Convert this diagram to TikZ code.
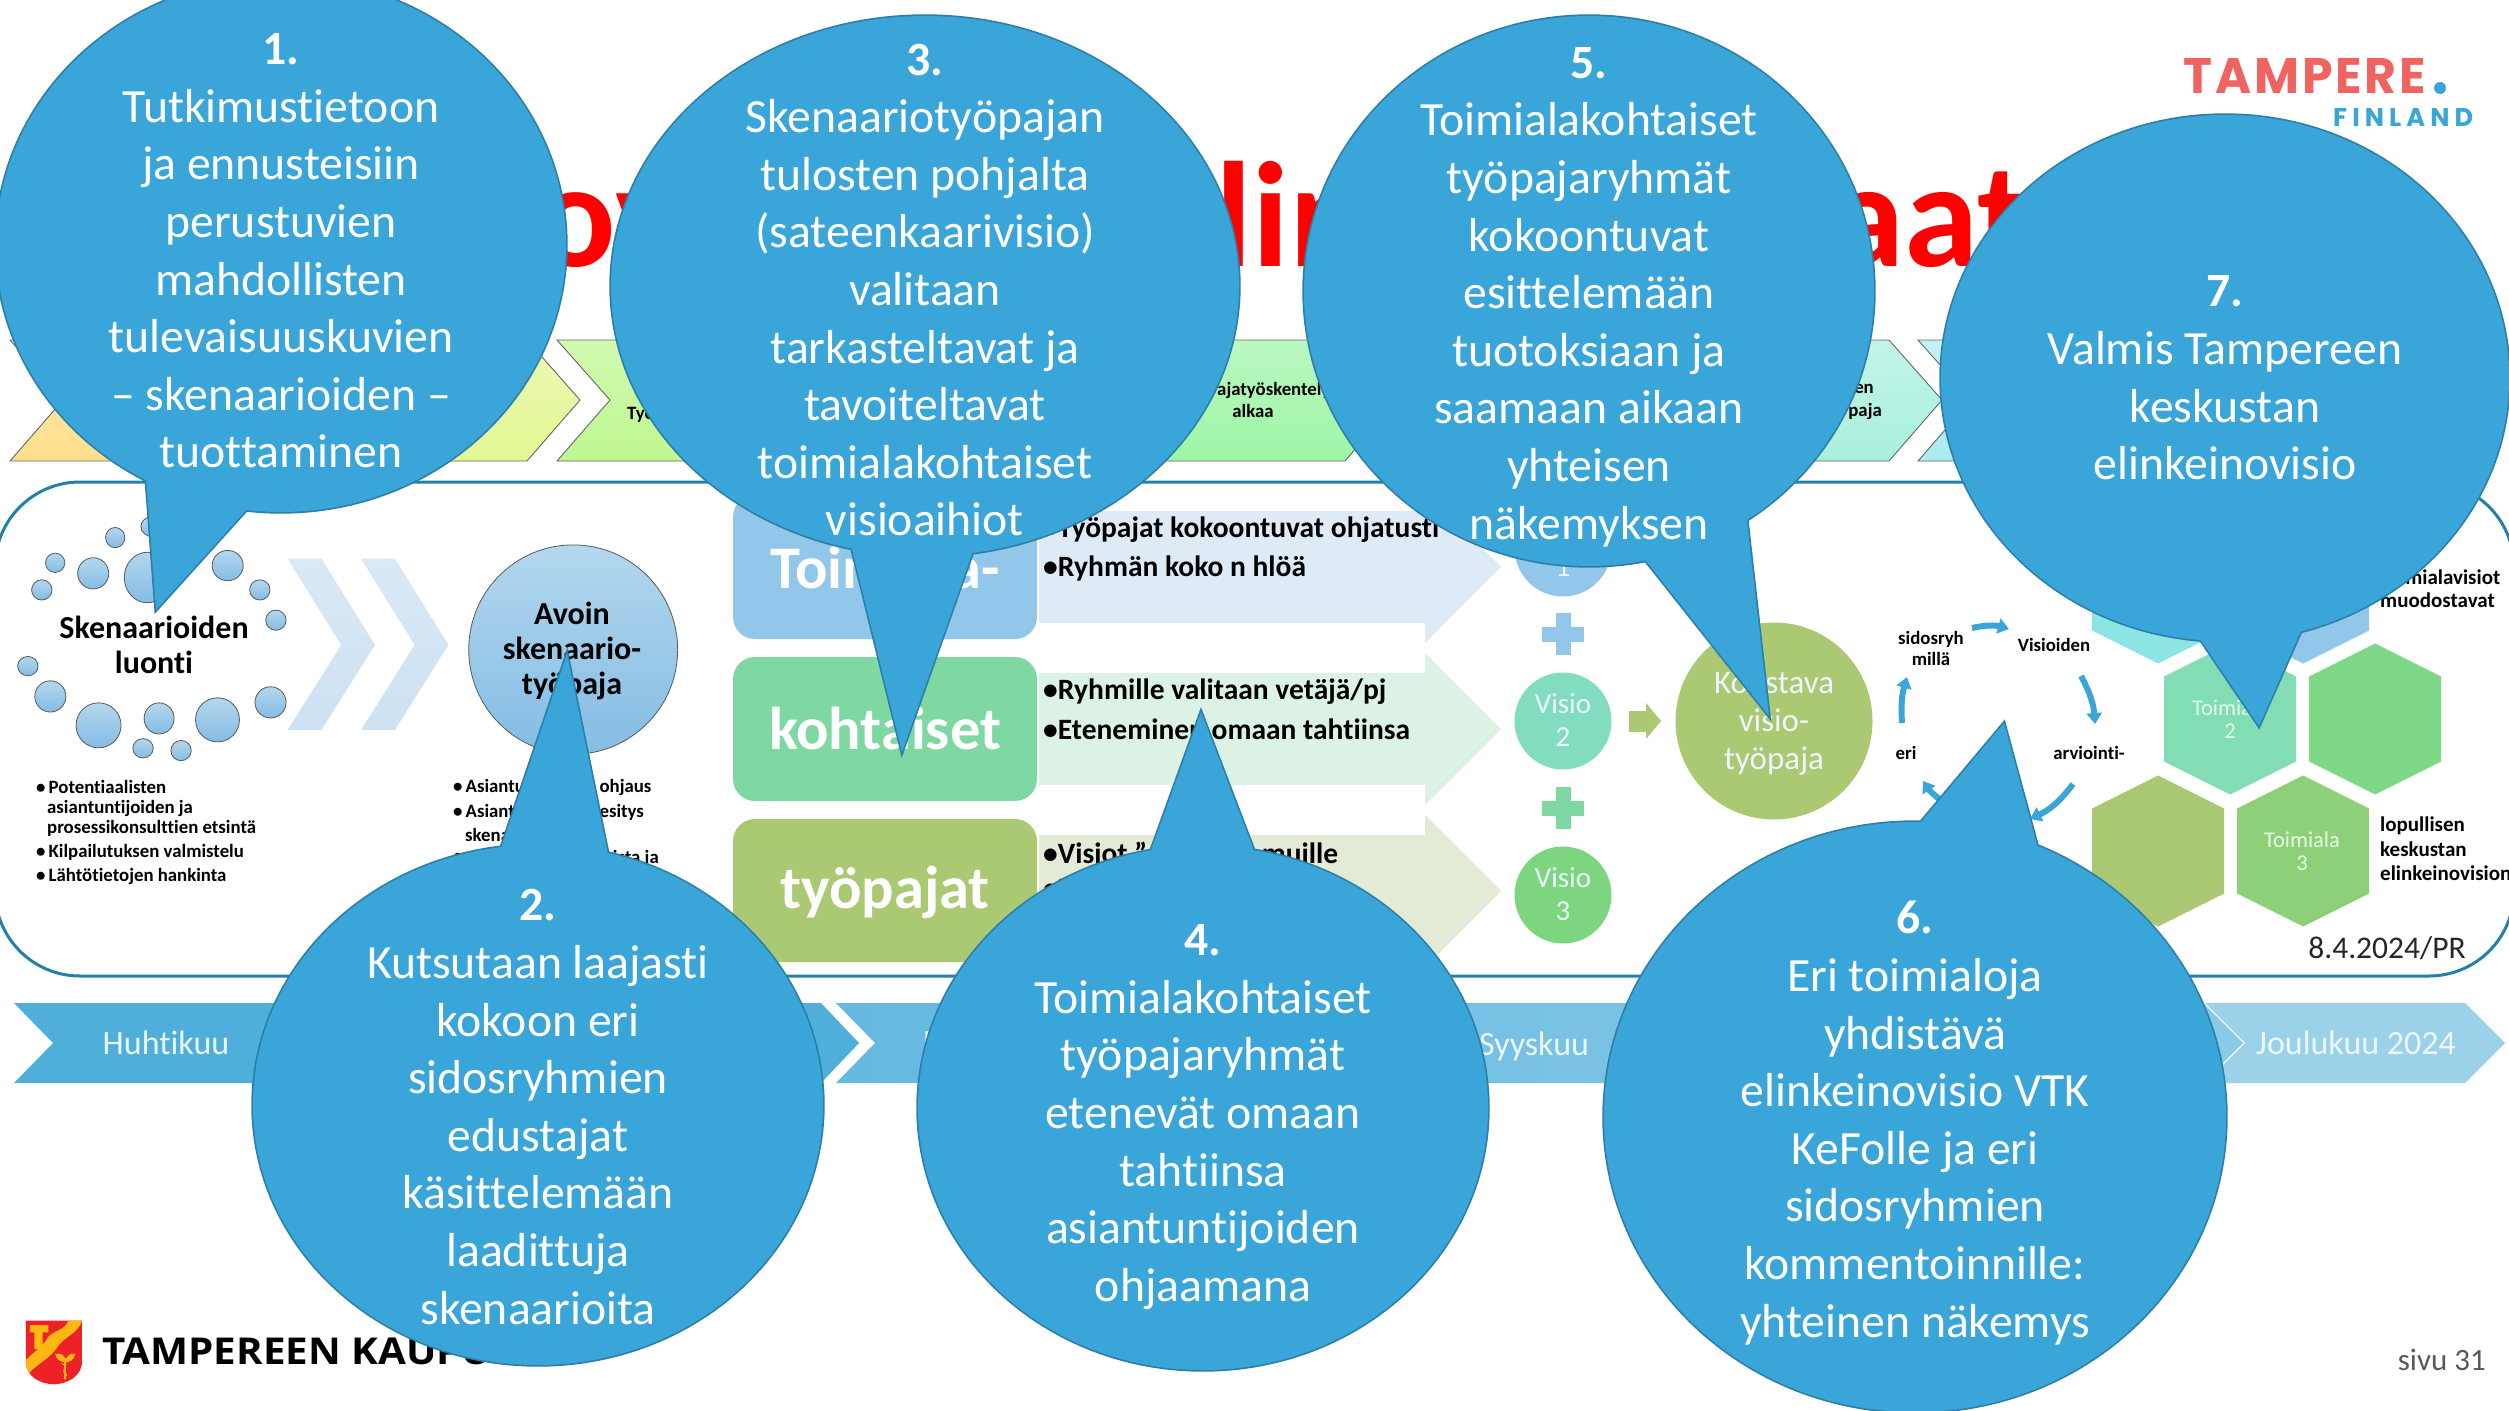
\documentclass[tikz,border=0pt]{standalone}
\usepackage{fontspec}
\usepackage{graphicx}
\usetikzlibrary{arrows.meta}
\setmainfont{Carlito}[Ligatures=CommonOff]
\newfontfamily\logofont{Poppins}
\newfontfamily\cityfont{Open Sans}
\definecolor{callfill}{HTML}{3AA5D8}
\definecolor{callline}{HTML}{2E7FA8}
\definecolor{boxa}{HTML}{92C7EA}
\definecolor{boxb}{HTML}{7FD8A2}
\definecolor{boxc}{HTML}{ABC872}
\definecolor{panelline}{HTML}{2380A8}
\definecolor{titlered}{HTML}{FF0000}
\definecolor{bubtop}{HTML}{B3D7EE}
\definecolor{bubbot}{HTML}{84BCE3}
\newcommand{\hc}[1]{\definecolor{#1}{HTML}{#1}}
\hc{FFDF8C}\hc{E3F793}\hc{BEF790}\hc{ADF59C}\hc{9DF5A6}\hc{A4F3C2}\hc{A8F0DC}\hc{ACEBF0}
\hc{D9E8F5}\hc{CDE1F2}\hc{DEEAF6}\hc{DBF2E4}\hc{E3EAD6}\hc{82DDC0}\hc{7DD67F}\hc{8CE5E3}
\hc{82DDB5}\hc{7DD888}\hc{8ED07A}\hc{50AEDB}\hc{66B9E0}\hc{8ACAE8}\hc{9CD1EA}\hc{EE2028}\hc{FDB813}
\tikzset{
  calltext/.style={text=white,align=center,inner sep=0pt,font=\fontsize{47.7}{57.6}\selectfont},
  smallbold/.style={text=black,inner sep=0pt,font=\fontsize{18.8}{21}\selectfont\bfseries},
  listbold/.style={text=black,inner sep=0pt,anchor=west,font=\fontsize{29.5}{29.5}\selectfont\bfseries},
  sidebold/.style={text=black,inner sep=0pt,anchor=west,font=\fontsize{21}{21}\selectfont\bfseries},
  boxtext/.style={text=white,inner sep=0pt,font=\fontsize{60.5}{60.5}\selectfont\bfseries},
  monthtext/.style={text=white!92!cyan,inner sep=0pt,font=\fontsize{34}{34}\selectfont},
  visiotext/.style={text=white!92!cyan,inner sep=0pt,align=center,font=\fontsize{29}{33}\selectfont},
  hextext/.style={text=white!90!green,inner sep=0pt,align=center,font=\fontsize{22.5}{23}\selectfont},
  titletext/.style={text=titlered,inner sep=0pt,anchor=base,font=\fontsize{150}{150}\selectfont\bfseries},
  chevline/.style={draw=gray!80!black,line width=0.9pt},
  callstroke/.style={draw=callline,line width=3.4pt,line join=miter},
  callflat/.style={fill=callfill},
  bubblefill/.style={draw=black!65,line width=0.8pt,top color=bubtop,bottom color=bubbot},
}
% name, cx, cy, rx, ry, base1, tip, base2
\newcommand{\callout}[8]{%
  \coordinate (#1c) at (#2,#3);
  \coordinate (#1a) at #6;
  \coordinate (#1t) at #7;
  \coordinate (#1b) at #8;
  \path[callstroke] (#1c) ellipse [x radius=#4,y radius=#5];
  \path[callstroke] (#1c) -- (#1a) -- (#1t) -- (#1b) -- cycle;
  \path[callflat] (#1c) ellipse [x radius=#4,y radius=#5];
  \path[callflat] (#1c) -- (#1a) -- (#1t) -- (#1b) -- cycle;
}
\newcommand{\hexa}[3]{%
  \fill[#3] (#1,#2-75.5) -- (#1+66,#2-42.5) -- (#1+66,#2+42.5) -- (#1,#2+75.5)
     -- (#1-66,#2+42.5) -- (#1-66,#2-42.5) -- cycle;
}
\newcommand{\chevr}[2]{%
  \path[chevline,top color=#2!70!white,bottom color=#2]
    (#1,340) -- (#1+244,340) -- (#1+297,400) -- (#1+244,461) -- (#1,461) -- (#1+53,400) -- cycle;
}
\begin{document}
\begin{tikzpicture}[x=1pt,y=-1pt]
\clip (0,0) rectangle (2509,1411);
\fill[white] (0,0) rectangle (2509,1411);

% title fragments
\node[titletext,anchor=base west] (titlea) at (535,266) {ov};
\node[titletext] (titleb) at (1293,266) {lin};
\node[titletext] (titlec) at (1930,266) {aat};

% top chevrons
\chevr{10}{FFDF8C}
\chevr{283}{E3F793}
\chevr{557}{BEF790}
\chevr{829}{ADF59C}
\chevr{1101}{9DF5A6}
\chevr{1373}{A4F3C2}
\chevr{1645}{A8F0DC}
\chevr{1918}{ACEBF0}
\node[smallbold,anchor=west] (chevtxta) at (627,415) {Työ};
\node[smallbold,anchor=west] (chevtxtb) at (1217,390) {ajatyöskentely};
\node[smallbold] (chevtxtc) at (1253,411) {alkaa};
\node[smallbold,anchor=east] (chevtxtd) at (1874,389) {en};
\node[smallbold,anchor=east] (chevtxte) at (1882,411) {paja};

% panel
\path[draw=panelline,line width=3pt,fill=white,rounded corners=85pt] (-5,482) rectangle (2514,976);

% bubbles
\begin{scope}[shift={(0,280)},x=0.5357pt,y=-0.4591pt]
\foreach \a/\b/\c/\d in {215/561/18/22,285/537/22/22,103/616/18/21,78/675/19/22,174/639/29/34,275/648/43/55,425/622/29/33,485/675/19/22,515/741/19/22,52/841/19/21,94/907/29/34,184/970/42/49,297/955/28/34,406/958/41/48,505/920/29/34,267/1020/19/21,338/1025/19/22}
  \path[bubblefill] (\a,\b) ellipse [x radius=\c,y radius=\d];
\foreach \s in {0,137}
  \path[top color=D9E8F5,bottom color=CDE1F2] (537+\s,607) -- (600+\s,607) -- (700+\s,795) -- (600+\s,980) -- (537+\s,980) -- (637+\s,795) -- cycle;
\path[bubblefill] (1070,805) ellipse [x radius=195,y radius=228];
\end{scope}
\node[text=black,inner sep=0pt,align=center,font=\fontsize{32}{35}\selectfont\bfseries] (skentxt) at (154,645) {Skenaarioiden\\luonti};
\node[text=black,inner sep=0pt,align=center,font=\fontsize{32}{35}\selectfont\bfseries] (avointxt) at (572,651) {Avoin\\skenaario-\\työpaja};

% left lists
\foreach \yy/\tt in {787/Potentiaalisten,852/Kilpailutuksen valmistelu,876/Lähtötietojen hankinta}
  \node[smallbold,anchor=west] at (36,\yy) {•\,\tt};
\node[smallbold,anchor=west] (lista) at (47,808) {asiantuntijoiden ja};
\node[smallbold,anchor=west] (listb) at (47,828) {prosessikonsulttien etsintä};
\node[smallbold,anchor=west] (listc) at (453,787) {•\,Asiantuntijoiden ohjaus};
\node[smallbold,anchor=west] (listd) at (453,812) {•\,Asiantuntijoiden esitys};
\node[smallbold,anchor=west] (liste) at (465,835) {skenaarioista};
\node[smallbold,anchor=west] (listf) at (453,858) {•};
\node[smallbold,anchor=east] (listg) at (659,858) {ista ja};

% middle arrows
\fill[DEEAF6] (1039,511) -- (1425,511) -- (1425,491) -- (1501,567) -- (1425,643) -- (1425,623) -- (1039,623) -- cycle;
\fill[DBF2E4] (1039,673) -- (1425,673) -- (1425,653) -- (1501,729) -- (1425,805) -- (1425,785) -- (1039,785) -- cycle;
\fill[E3EAD6] (1039,835) -- (1425,835) -- (1425,815) -- (1501,891) -- (1425,967) -- (1425,947) -- (1039,947) -- cycle;

% middle boxes
\path[fill=boxa,rounded corners=22pt] (733,495) rectangle (1037,639);
\path[fill=boxb,rounded corners=22pt] (733,657) rectangle (1037,801);
\path[fill=boxc,rounded corners=22pt] (733,819) rectangle (1037,962);
\node[boxtext] (boxta) at (885,567) {Toimiala-};
\node[boxtext] (boxtb) at (885,728) {kohtaiset};
\node[boxtext] (boxtc) at (885,892) {työpajat};

\node[listbold] (lia) at (1043,530) {•Työpajat kokoontuvat ohjatusti};
\node[listbold] (lib) at (1043,568) {•Ryhmän koko n hlöä};
\node[listbold] (lic) at (1043,692) {•Ryhmille valitaan vetäjä/pj};
\node[listbold] (lid) at (1043,729) {•Eteneminen omaan tahtiinsa};
\node[listbold] (lie) at (1043,853) {•Visiot ”avataan” muille};
\node[listbold] (lif) at (1043,889) {•P};

% visio circles
\fill[boxa] (1563,548) circle [radius=48.5];
\fill[82DDC0] (1563,721) circle [radius=48.5];
\fill[7DD67F] (1563,895) circle [radius=48.5];
\node[visiotext] (va) at (1563,550) {Visio\\1};
\node[visiotext] (vb) at (1563,720) {Visio\\2};
\node[visiotext] (vc) at (1563,894) {Visio\\3};
\fill[boxa] (1555.5,613) rectangle (1570.5,655);
\fill[boxa] (1542,626.5) rectangle (1584,641.5);
\fill[boxb] (1555.5,787) rectangle (1570.5,829);
\fill[boxb] (1542,800.5) rectangle (1584,815.5);
\fill[boxc] (1629,711) -- (1646,711) -- (1646,703) -- (1661,721) -- (1646,739) -- (1646,732) -- (1629,732) -- cycle;
\fill[boxc] (1774,721) circle [radius=98.5];
\node[text=white!92!cyan,inner sep=0pt,align=center,font=\fontsize{33}{38}\selectfont] (koos) at (1774,724) {Koostava\\visio-\\työpaja};

% cycle
\node[smallbold,align=center] (cya) at (1931,648) {sidosryh\\millä};
\node[smallbold] (cyb) at (2054,645) {Visioiden};
\node[smallbold] (cyc) at (2089,753) {arviointi-};
\node[smallbold] (cyd) at (1906,753) {eri};
\tikzset{cyarrow/.style={draw=callfill,line width=6pt,-{Triangle[length=11pt,width=15pt]}}}
\draw[cyarrow] (1972,628) to[bend left=14] (2009,629);
\draw[cyarrow] (2081,676) to[bend left=12] (2095,724);
\draw[cyarrow] (2073,784) to[bend left=14] (2030,819);
\draw[cyarrow] (1942,801) to[bend left=10] (1923,781);
\draw[cyarrow] (1902,723) to[bend left=10] (1907,677);

% hexagons
\hexa{2158}{588}{8CE5E3}
\hexa{2303}{588}{boxa}
\hexa{2230}{719}{82DDB5}
\hexa{2375}{719}{7DD888}
\hexa{2158}{851}{boxc}
\hexa{2303}{851}{8ED07A}
\node[hextext] (hexa) at (2230,719) {Toimiala\\2};
\node[hextext] (hexb) at (2302,851) {Toimiala\\3};
\node[sidebold] (sida) at (2380,577) {Toimialavisiot};
\node[sidebold] (sidb) at (2380,600) {muodostavat};
\node[sidebold] (sidc) at (2380,826) {lopullisen};
\node[sidebold] (sidd) at (2380,849) {keskustan};
\node[sidebold] (side) at (2380,873) {elinkeinovision};
\node[text=black!85,inner sep=0pt,font=\fontsize{31.5}{31.5}\selectfont] (date) at (2387,948) {8.4.2024/PR};

% time band
\fill[50AEDB] (14,1003) -- (821,1003) -- (859,1043) -- (821,1083) -- (14,1083) -- (53,1043) -- cycle;
\path[left color=66B9E0,right color=8ACAE8] (836,1003) -- (2203,1003) -- (2243,1043) -- (2203,1083) -- (836,1083) -- (875,1043) -- cycle;
\fill[9CD1EA] (2205,1003) -- (2465,1003) -- (2505,1043) -- (2465,1083) -- (2205,1083) -- (2245,1043) -- cycle;
\node[monthtext] (mona) at (166,1043) {Huhtikuu};
\node[monthtext,anchor=west] (monb) at (923,1043) {E};
\node[monthtext] (monc) at (1534,1046) {Syyskuu};
\node[monthtext] (mond) at (2356,1043) {Joulukuu 2024};

% logos
\node[inner sep=0pt,anchor=north west,text={rgb,255:red,239;green,100;blue,97}] (tpe) at (2183,58) {\resizebox{243pt}{35pt}{\logofont\addfontfeatures{LetterSpace=6}\bfseries TAMPERE}};
\fill[callfill] (2440,88) circle [radius=6];
\node[inner sep=0pt,anchor=north west,text=callfill] (fin) at (2333,108) {\resizebox{140pt}{18pt}{\logofont\addfontfeatures{LetterSpace=20}\bfseries FINLAND}};
\node[inner sep=0pt,anchor=west,text=black,font=\fontsize{37}{37}\selectfont\cityfont\bfseries] (city) at (102,1351) {\scalebox{1.09}[1]{TAMPEREEN KAUPUNKI}};
\node[inner sep=0pt,anchor=east,text=black!65,font=\fontsize{31}{31}\selectfont] (sivu) at (2486,1360) {sivu 31};

% shield
\begin{scope}[shift={(0,1280)},x=0.3333pt,y=-0.3333pt]
\fill[EE2028] (78,122) -- (246,122) -- (246,245) .. controls (246,290) and (200,312) .. (162,313) .. controls (120,312) and (78,290) .. (78,245) -- cycle;
\begin{scope}
\clip (78,122) -- (246,122) -- (246,245) .. controls (246,290) and (200,312) .. (162,313) .. controls (120,312) and (78,290) .. (78,245) -- cycle;
\fill[FDB813] (205,122) -- (246,122) .. controls (232,165) and (195,165) .. (170,205) .. controls (145,240) and (110,250) .. (78,290) -- (78,240) .. controls (100,215) and (125,205) .. (145,170) .. controls (165,150) and (195,150) .. (205,122) -- cycle;
\end{scope}
\fill[FDB813] (90,135) -- (145,135) -- (145,157) -- (128,157) -- (128,207) -- (103,207) -- (103,157) -- (90,157) -- cycle;
\fill[FDB813] (165,222) .. controls (185,218) and (190,225) .. (197,238) .. controls (205,225) and (210,218) .. (226,222) .. controls (222,240) and (210,245) .. (197,248) .. controls (182,245) and (170,240) .. (165,222) -- cycle;
\draw[FDB813,line width=1.2pt] (195,235) -- (195,298);
\draw[FDB813,line width=1pt] (185,250) .. controls (210,262) and (180,272) .. (195,280) .. controls (210,285) and (185,292) .. (195,298);
\end{scope}

% callouts
\callout{ca}{281}{245}{285}{267}{(146,477)}{(156,610)}{(249,507)}
\node[calltext] (cta) at (281,251) {\textbf{1.}\\Tutkimustietoon\\ja ennusteisiin\\perustuvien\\mahdollisten\\tulevaisuuskuvien\\– skenaarioiden –\\tuottaminen};
\callout{cb}{538}{1105}{285}{260}{(501,848)}{(567,654)}{(608,854)}
\node[calltext] (ctb) at (538,1107) {\textbf{2.}\\Kutsutaan laajasti\\kokoon eri\\sidosryhmien\\edustajat\\käsittelemään\\laadittuja\\skenaarioita};
\callout{cc}{925}{286}{314}{270}{(852,549)}{(902,752)}{(972,554)}
\node[calltext] (ctc) at (925,290) {\textbf{3.}\\Skenaariotyöpajan\\tulosten pohjalta\\(sateenkaarivisio)\\valitaan\\tarkasteltavat ja\\tavoiteltavat\\toimialakohtaiset\\visioaihiot};
\callout{cd}{1203}{1108}{285}{262}{(1149,856)}{(1201,712)}{(1256,856)}
\node[calltext] (ctd) at (1203,1117) {\textbf{4.}\\Toimialakohtaiset\\työpajaryhmät\\etenevät omaan\\tahtiinsa\\asiantuntijoiden\\ohjaamana};
\callout{ce}{1589}{291}{285}{275}{(1646,561)}{(1769,716)}{(1747,521)}
\node[calltext] (cte) at (1589,297) {\textbf{5.}\\Toimialakohtaiset\\työpajaryhmät\\kokoontuvat\\esittelemään\\tuotoksiaan ja\\saamaan aikaan\\yhteisen\\näkemyksen};
\callout{cf}{1915}{1117}{311}{295}{(1921,822)}{(2004,723)}{(2037,845)}
\node[calltext] (ctf) at (1915,1123) {\textbf{6.}\\Eri toimialoja\\yhdistävä\\elinkeinovisio VTK\\KeFolle ja eri\\sidosryhmien\\kommentoinnille:\\yhteinen näkemys};
\callout{cg}{2225}{378}{284}{263}{(2196,633)}{(2259,726)}{(2304,624)}
\node[calltext] (ctg) at (2225,378) {\textbf{7.}\\Valmis Tampereen\\keskustan\\elinkeinovisio};
\end{tikzpicture}
\end{document}
